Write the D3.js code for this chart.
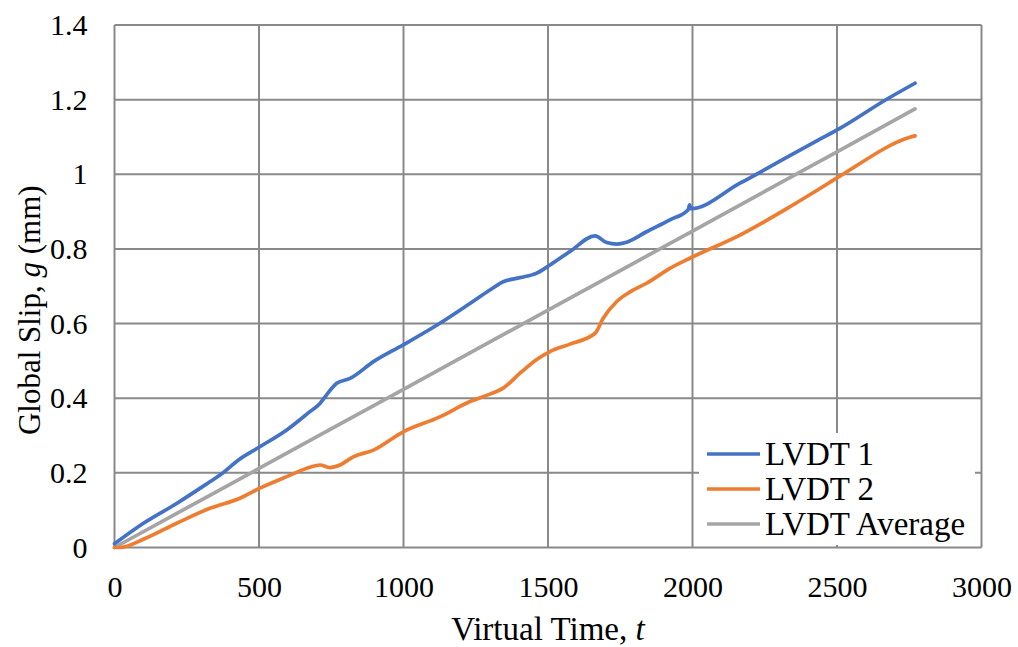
<!DOCTYPE html>
<html>
<head>
<meta charset="utf-8">
<script src="https://cdn.jsdelivr.net/npm/d3@7"></script>
<style>
  body { margin: 0; background: #fff; }
  svg text { font-family: "Liberation Serif", "Times New Roman", serif; fill: #000; }
</style>
</head>
<body>
<div id="chart"></div>
<script>
// 数据
const lvdt1T = [0, 100, 215, 330, 365, 428, 503, 596, 676, 711, 734, 769, 815, 896, 999, 1126, 1230, 1299, 1345, 1403, 1461, 1507, 1576, 1663, 1703, 1738, 1772, 1841, 1922, 1985, 1990, 1995, 2164, 2337, 2441, 2510, 2672, 2770]
const lvdt1G = [0.010, 0.065, 0.118, 0.176, 0.194, 0.234, 0.270, 0.315, 0.364, 0.386, 0.409, 0.440, 0.453, 0.498, 0.543, 0.601, 0.654, 0.690, 0.712, 0.723, 0.735, 0.757, 0.793, 0.835, 0.817, 0.813, 0.818, 0.846, 0.878, 0.905, 0.918, 0.908, 0.976, 1.050, 1.094, 1.123, 1.201, 1.244]
const lvdt2T = [0, 19, 100, 215, 330, 434, 503, 596, 676, 711, 745, 780, 826, 896, 999, 1126, 1230, 1299, 1345, 1403, 1461, 1507, 1576, 1663, 1691, 1738, 1784, 1841, 1922, 1991, 2164, 2337, 2441, 2510, 2752, 2770]
const lvdt2G = [0.000, 0.000, 0.022, 0.065, 0.105, 0.132, 0.159, 0.190, 0.215, 0.221, 0.214, 0.221, 0.243, 0.261, 0.310, 0.350, 0.391, 0.411, 0.427, 0.467, 0.504, 0.525, 0.545, 0.574, 0.614, 0.659, 0.685, 0.708, 0.748, 0.775, 0.837, 0.913, 0.962, 0.995, 1.099, 1.103]
const avgT = [0, 500, 1000, 1500, 2000, 2500, 2770]
const avgG = [0, 0.212, 0.424, 0.636, 0.848, 1.060, 1.175]

const xTicks = [0, 500, 1000, 1500, 2000, 2500, 3000]
const yTicks = [0, 0.2, 0.4, 0.6, 0.8, 1, 1.2, 1.4]
const seriesNames = ['LVDT 1', 'LVDT 2', 'LVDT Average']
const colors = ['#4472C4', '#ED7D31', '#A5A5A5']

const width = 1018
const height = 647
const margin = { top: 25, right: 36.5, bottom: 99.5, left: 114.5 }
const tickFont = 30

const svg = d3.select('#chart').append('svg')
  .attr('width', width)
  .attr('height', height)

const x = d3.scaleLinear().domain([0, 3000]).range([margin.left, width - margin.right])
const y = d3.scaleLinear().domain([0, 1.4]).range([height - margin.bottom, margin.top])

// 网格线
const grid = svg.append('g')
grid.selectAll('line.h').data(yTicks).enter().append('line')
  .attr('x1', x(0)).attr('x2', x(3000))
  .attr('y1', d => y(d)).attr('y2', d => y(d))
  .attr('stroke', '#898989').attr('stroke-width', 2)
grid.selectAll('line.v').data(xTicks).enter().append('line')
  .attr('y1', y(0)).attr('y2', y(1.4))
  .attr('x1', d => x(d)).attr('x2', d => x(d))
  .attr('stroke', '#898989').attr('stroke-width', 2)

// 坐标轴刻度文字
const xAxis = d3.axisBottom(x).tickValues(xTicks).tickSize(0).tickPadding(28).tickFormat(d3.format('d'))
svg.append('g').attr('transform', `translate(0,${y(0)})`).call(xAxis)
  .call(g => g.select('.domain').remove())
  .selectAll('text').attr('font-size', tickFont).attr('fill', '#000')

const yAxis = d3.axisLeft(y).tickValues(yTicks).tickSize(0).tickPadding(27).tickFormat(d3.format('~g'))
svg.append('g').attr('transform', `translate(${x(0)},0)`).call(yAxis)
  .call(g => g.select('.domain').remove())
  .selectAll('text').attr('font-size', tickFont).attr('fill', '#000')

// 曲线
const line = d3.line().x(d => x(d[0])).y(d => y(d[1])).curve(d3.curveMonotoneX)
const series = [
  d3.zip(lvdt1T, lvdt1G),
  d3.zip(lvdt2T, lvdt2G),
  d3.zip(avgT, avgG)
]
// 先画平均线，再画 LVDT 2、LVDT 1
;[2, 1, 0].forEach(i => {
  svg.append('path')
    .datum(series[i])
    .attr('fill', 'none')
    .attr('stroke', colors[i])
    .attr('stroke-width', 3.7)
    .attr('stroke-linecap', 'round')
    .attr('stroke-linejoin', 'round')
    .attr('d', line)
})

// 图例
const legend = svg.append('g')
legend.append('rect')
  .attr('x', 699).attr('y', 433)
  .attr('width', 276).attr('height', 112)
  .attr('fill', '#fff')
seriesNames.forEach((name, i) => {
  const ly = 454 + i * 35
  legend.append('line')
    .attr('x1', 707).attr('x2', 760)
    .attr('y1', ly).attr('y2', ly)
    .attr('stroke', colors[i]).attr('stroke-width', 3.7)
  legend.append('text')
    .attr('x', 765).attr('y', ly + 11)
    .attr('font-size', 33)
    .text(name)
})

// 坐标轴标题
svg.append('text')
  .attr('x', (x(0) + x(3000)) / 2).attr('y', 640)
  .attr('text-anchor', 'middle')
  .attr('font-size', 33)
  .html('Virtual Time, <tspan font-style="italic">t</tspan>')

svg.append('text')
  .attr('transform', `translate(40,${(y(0) + y(1.4)) / 2 + 24}) rotate(-90)`)
  .attr('text-anchor', 'middle')
  .attr('font-size', 31)
  .html('Global Slip, <tspan font-style="italic">g</tspan> (mm)')
</script>
</body>
</html>
